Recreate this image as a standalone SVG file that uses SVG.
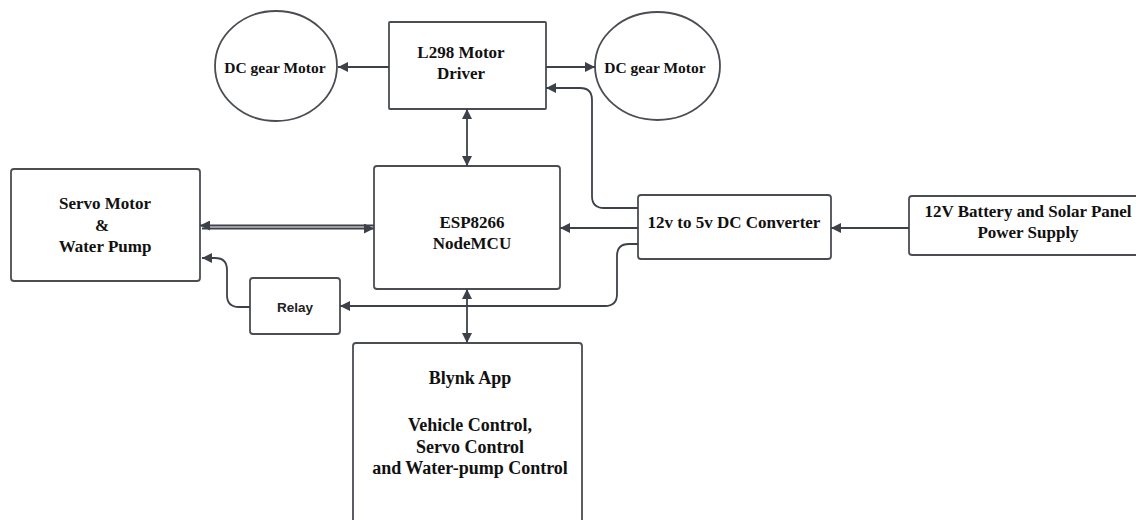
<svg xmlns="http://www.w3.org/2000/svg" width="1136" height="520" viewBox="0 0 1136 520">
<defs>
<style>
.box{fill:#fff;stroke:#4a4d52;stroke-width:1.8}
.t{font-family:"Liberation Serif","Times New Roman",serif;font-weight:bold;font-size:17px;fill:#111;text-anchor:middle}
.tc{font-size:15.5px}
.tb{font-size:18px}
.s{font-family:"Liberation Sans",Arial,sans-serif;font-weight:bold;font-size:13.5px;fill:#222;text-anchor:middle}
.c{fill:none;stroke:#3d4149;stroke-width:1.8}
</style>
<marker id="ah" viewBox="0 0 10 10" refX="10" refY="5" markerWidth="10" markerHeight="10" markerUnits="userSpaceOnUse" orient="auto-start-reverse">
<path d="M0,0 L10,5 L0,10 z" fill="#3d4149"/>
</marker>
</defs>
<rect width="1136" height="520" fill="#fff"/>

<g id="motor-left">
<ellipse class="box" cx="276" cy="66" rx="61" ry="55"/>
<text class="t tc" x="275" y="73">DC gear Motor</text>
</g>
<g id="l298">
<rect class="box" x="389" y="22" width="157" height="87" rx="1"/>
<text class="t" x="461" y="58">L298 Motor</text>
<text class="t" x="461" y="79">Driver</text>
</g>
<g id="motor-right">
<ellipse class="box" cx="657.5" cy="66" rx="62.5" ry="54"/>
<text class="t tc" x="655" y="73">DC gear Motor</text>
</g>
<g id="servo">
<rect class="box" x="11" y="169" width="189" height="112" rx="3"/>
<text class="t" x="105" y="209">Servo Motor</text>
<text class="t" x="102" y="231">&amp;</text>
<text class="t" x="105" y="252">Water Pump</text>
</g>
<g id="esp">
<rect class="box" x="374" y="166" width="186" height="123" rx="3"/>
<text class="t" x="472" y="228">ESP8266</text>
<text class="t" x="472" y="249">NodeMCU</text>
</g>
<g id="converter">
<rect class="box" x="638" y="195" width="193" height="64" rx="3"/>
<text class="t" x="734" y="228">12v to 5v DC Converter</text>
</g>
<g id="supply">
<rect class="box" x="909" y="196" width="240" height="59" rx="3"/>
<text class="t" x="1028" y="217">12V Battery and Solar Panel</text>
<text class="t" x="1028" y="238">Power Supply</text>
</g>
<g id="relay">
<rect class="box" x="250" y="278" width="90" height="56" rx="3"/>
<text class="s" x="295" y="312">Relay</text>
</g>
<g id="blynk">
<rect class="box" x="353" y="343" width="229" height="190" rx="3"/>
<text class="t tb" x="470" y="384">Blynk App</text>
<text class="t tb" x="470" y="431">Vehicle Control,</text>
<text class="t tb" x="470" y="453">Servo Control</text>
<text class="t tb" x="470" y="474">and Water-pump Control</text>
</g>

<g id="connectors">
<path class="c" d="M389,67 H338" marker-end="url(#ah)"/>
<path class="c" d="M546,67 H595" marker-end="url(#ah)"/>
<path class="c" d="M467,109 V166" marker-start="url(#ah)" marker-end="url(#ah)"/>
<path class="c" d="M467,289 V343" marker-start="url(#ah)" marker-end="url(#ah)"/>
<path class="c" d="M638,208 H604 Q592,208 592,196 V100 Q592,88 580,88 H546" marker-end="url(#ah)"/>
<path class="c" d="M638,228 H560" marker-end="url(#ah)"/>
<path class="c" d="M909,228 H831" marker-end="url(#ah)"/>
<path class="c" d="M638,244 H629 Q617,244 617,256 V294 Q617,306 605,306 H340" marker-end="url(#ah)"/>
<path class="c" d="M250,307 H239 Q227,307 227,295 V270 Q227,258 215,258 H202" marker-end="url(#ah)"/>
<path class="c" d="M374,225.5 H200" marker-end="url(#ah)"/>
<path class="c" d="M202,228.5 H374" marker-end="url(#ah)"/>
</g>
</svg>
